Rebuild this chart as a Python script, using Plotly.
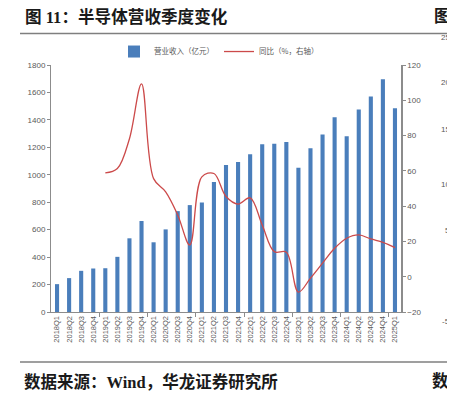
import plotly.graph_objects as go

quarters = ["2018Q1","2018Q2","2018Q3","2018Q4","2019Q1","2019Q2","2019Q3","2019Q4",
            "2020Q1","2020Q2","2020Q3","2020Q4","2021Q1","2021Q2","2021Q3","2021Q4",
            "2022Q1","2022Q2","2022Q3","2022Q4","2023Q1","2023Q2","2023Q3","2023Q4",
            "2024Q1","2024Q2","2024Q3","2024Q4","2025Q1"]
revenue = [203, 247, 300, 317, 319, 402, 537, 663,
           508, 602, 735, 779, 798, 948, 1072, 1094,
           1149, 1222, 1227, 1239, 1052, 1193, 1294, 1420,
           1280, 1476, 1570, 1696, 1485]
yoy = [None, None, None, None, 58.8, 61.3, 78.2, 109.3,
       55.6, 48.1, 35.0, 18.0, 56.6, 58.5, 45.5, 41.2,
       44.7, 29.3, 14.2, 13.9, -8.7, -0.8, 7.7, 16.1,
       21.8, 23.7, 21.4, 19.5, 16.5]
left_ticks = [0, 200, 400, 600, 800, 1000, 1200, 1400, 1600, 1800]
right_ticks = [-20, 0, 20, 40, 60, 80, 100, 120]
year_bounds = [3.5, 7.5, 11.5, 15.5, 19.5, 23.5, 27.5]

# page has an 8px body margin; figure sized so it ends at the window edge
OFF = 8
W, H = 455 - OFF, 394 - OFF
PL, PR, PT, PB = 51, 401, 64.5, 312  # plot area in page pixels


def px(xp):
    return (xp - PL) / (PR - PL)


def py(yp):
    return 1 - (yp - PT) / (PB - PT)


tick_font = dict(family="Arial, Liberation Sans, sans-serif", size=8, color="#595959")
cjk = "Liberation Serif, Noto Sans CJK SC, serif"

fig = go.Figure()
fig.add_trace(go.Bar(x=quarters, y=revenue, name="营业收入（亿元）",
                     marker=dict(color="#4A7EBB", line=dict(width=0)), yaxis="y"))
fig.add_trace(go.Scatter(x=quarters, y=yoy, name="同比（%，右轴）", mode="lines",
                         line=dict(color="#CC4A4A", width=1.3, shape="spline", smoothing=1.0),
                         yaxis="y2"))
fig.add_trace(go.Scatter(x=[0], y=[None], xaxis="x2", yaxis="y", showlegend=False,
                         hoverinfo="skip"))

fig.update_layout(
    width=W, height=H,
    margin=dict(l=PL - OFF, r=W - (PR - OFF), t=PT - OFF, b=H - (PB - OFF), autoexpand=False),
    paper_bgcolor="white", plot_bgcolor="white",
    bargap=0.66,
    showlegend=True,
    legend=dict(orientation="h", x=px(219), xanchor="center", y=py(51), yanchor="middle",
                font=dict(family="Noto Sans CJK SC", size=7.5, color="#595959"),
                itemwidth=30, traceorder="normal", bgcolor="rgba(0,0,0,0)"),
    xaxis=dict(type="category", tickangle=-90,
               tickfont=dict(family="Arial, Liberation Sans, sans-serif", size=7.5, color="#595959"),
               showline=True, linecolor="#8C8C8C", linewidth=1, ticks="", showgrid=False,
               range=[-0.5, 28.5]),
    xaxis2=dict(overlaying="x", range=[-0.5, 28.5], tickvals=year_bounds, ticks="outside",
                ticklen=4, tickcolor="#8C8C8C", showticklabels=False, showgrid=False,
                showline=False, zeroline=False, side="bottom", anchor="y"),
    yaxis=dict(range=[0, 1800], tickvals=left_ticks, tickfont=tick_font, showgrid=False,
               showline=True, linecolor="#8C8C8C", linewidth=1, ticks="outside",
               ticklen=3, tickcolor="#8C8C8C", zeroline=False),
    yaxis2=dict(range=[-20, 120], tickvals=right_ticks, overlaying="y", side="right",
                tickfont=tick_font, showgrid=False, showline=True, linecolor="#8C8C8C",
                linewidth=1.5, ticks="outside", ticklen=3, tickcolor="#8C8C8C", zeroline=False),
)

anns = [
    dict(text="<b>图 11：半导体营收季度变化</b>", x=23, y=16, size=16.6),
    dict(text="<b>图 1</b>", x=432, y=16, size=16.6),
    dict(text="<b>数据来源：Wind，华龙证券研究所</b>", x=22, y=382, size=16.5),
    dict(text="<b>数据</b>", x=430, y=382, size=16.5),
]
for a in anns:
    fig.add_annotation(text=a["text"], xref="paper", yref="paper",
                       x=px(a["x"]), y=py(a["y"]),
                       xanchor="left", yanchor="middle", showarrow=False,
                       font=dict(family=cjk, size=a["size"], color="#1a1a1a"))
for txt, yy in [("25", 37), ("20", 82), ("15", 129), ("10", 184), ("5", 230), ("-5", 322)]:
    fig.add_annotation(text=txt, xref="paper", yref="paper",
                       x=px(452), y=py(yy),
                       xanchor="right", yanchor="middle", showarrow=False,
                       font=dict(family="Arial", size=8, color="#595959"))

for yline in (33, 362):
    fig.add_shape(type="line", xref="paper", yref="paper",
                  x0=px(20), x1=px(460), y0=py(yline), y1=py(yline),
                  line=dict(color="#7f7f7f", width=1.5))

fig.write_html("out.html")
